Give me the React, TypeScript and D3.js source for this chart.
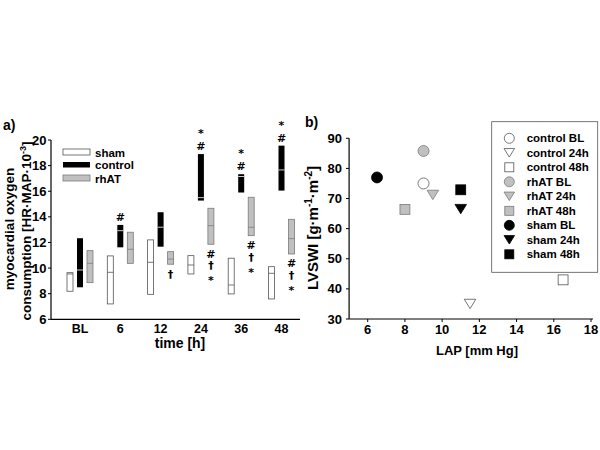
import React from "react";
import * as d3 from "d3";

const categories = ["BL", "6", "12", "24", "36", "48"];
const shamLow = [8.19, 7.2, 7.95, 9.54, 7.98, 7.59];
const shamMed = [9.54, 9.67, 10.45, 10.24, 8.68, 9.59];
const shamHigh = [9.64, 10.95, 12.2, 10.97, 10.77, 10.11];
const controlLow = [8.5, 11.62, 11.67, 15.27, 15.9, 16.05];
const controlMed = [9.85, 12.92, 13.19, 15.5, 17.15, 17.66];
const controlHigh = [12.33, 13.37, 14.36, 18.9, 17.33, 19.56];
const rhatLow = [8.86, 10.37, 10.3, 11.86, 12.53, 11.1];
const rhatMed = [10.37, 11.47, 10.7, 13.31, 13.19, 12.3];
const rhatHigh = [11.36, 12.8, 11.28, 14.67, 15.53, 13.81];
const aboveControl = [[], ["#"], [], ["#", "*"], ["#", "*"], ["#", "*"]];
const belowRhat = [[], [], ["†"], ["#", "†", "*"], ["#", "†", "*"], ["#", "†", "*"]];
const yTicksA = [6, 8, 10, 12, 14, 16, 18, 20];

const scatterLabels = ["control BL", "control 24h", "control 48h", "rhAT BL", "rhAT 24h", "rhAT 48h", "sham BL", "sham 24h", "sham 48h"];
const scatterLAP = [9, 11.5, 16.5, 9, 9.5, 8, 6.5, 11, 11];
const scatterLVSWI = [75, 35, 43, 85.8, 71.2, 66.4, 77, 66.5, 72.9];
const xTicksB = [6, 8, 10, 12, 14, 16, 18];
const yTicksB = [30, 40, 50, 60, 70, 80, 90];

const FONT = "'Liberation Sans', Arial, sans-serif";
const SYMFONT = "'DejaVu Sans', 'Liberation Sans', sans-serif";
const GREY = "#c0c0c0";
const GREY_STROKE = "#7a7a7a";

function groupStyle(label: string) {
  if (label.startsWith("control")) return { fill: "#ffffff", stroke: "#555" };
  if (label.startsWith("rhAT")) return { fill: GREY, stroke: GREY_STROKE };
  return { fill: "#000000", stroke: "#000" };
}

function Marker({ label, cx, cy, s }: { label: string; cx: number; cy: number; s: number }) {
  const st = groupStyle(label);
  const sw = 0.8;
  if (label.endsWith("BL")) {
    const p = d3.path();
    p.arc(cx, cy, s, 0, Math.PI * 2);
    return <path d={p.toString()} fill={st.fill} stroke={st.stroke} strokeWidth={sw} />;
  }
  if (label.endsWith("24h")) {
    const p = d3.path();
    const h = s * 1.7;
    p.moveTo(cx - s * 1.05, cy - h / 2);
    p.lineTo(cx + s * 1.05, cy - h / 2);
    p.lineTo(cx, cy + h / 2);
    p.closePath();
    return <path d={p.toString()} fill={st.fill} stroke={st.stroke} strokeWidth={sw} />;
  }
  return <rect x={cx - s * 0.9} y={cy - s * 0.9} width={s * 1.8} height={s * 1.8} fill={st.fill} stroke={st.stroke} strokeWidth={sw} />;
}

function symOffset(sym: string) {
  return sym === "*" ? 7 : 4;
}

export default function App() {
  // Panel a
  const yA = d3.scaleLinear().domain([6, 20]).range([319.3, 140]);
  const xA = d3.scalePoint<string>().domain(categories).range([80, 281.5]);
  const off = 10;
  const bw = 6;

  const boxes = categories.map((c, i) => {
    const cx = xA(c)!;
    return (
      <g key={c}>
        <rect x={cx - off - bw / 2} y={yA(shamHigh[i])} width={bw} height={yA(shamLow[i]) - yA(shamHigh[i])} fill="#fff" stroke="#555" strokeWidth={0.8} />
        <line x1={cx - off - bw / 2} x2={cx - off + bw / 2} y1={yA(shamMed[i])} y2={yA(shamMed[i])} stroke="#555" strokeWidth={0.8} />
        <rect x={cx - bw / 2} y={yA(controlHigh[i])} width={bw} height={yA(controlLow[i]) - yA(controlHigh[i])} fill="#000" />
        <line x1={cx - bw / 2} x2={cx + bw / 2} y1={yA(controlMed[i])} y2={yA(controlMed[i])} stroke="#fff" strokeWidth={0.8} />
        <rect x={cx + off - bw / 2} y={yA(rhatHigh[i])} width={bw} height={yA(rhatLow[i]) - yA(rhatHigh[i])} fill={GREY} stroke={GREY_STROKE} strokeWidth={0.8} />
        <line x1={cx + off - bw / 2} x2={cx + off + bw / 2} y1={yA(rhatMed[i])} y2={yA(rhatMed[i])} stroke={GREY_STROKE} strokeWidth={0.8} />
        {aboveControl[i].map((sym, k) => (
          <text key={"a" + k} x={cx} y={yA(controlHigh[i]) - 8 - k * 16 + symOffset(sym)} textAnchor="middle" fontSize={11} fontWeight="bold" fontFamily={SYMFONT} fill="#000">{sym}</text>
        ))}
        {belowRhat[i].map((sym, k) => (
          <text key={"b" + k} x={cx + off} y={yA(rhatLow[i]) + 9.5 + k * 11.7 + symOffset(sym)} textAnchor="middle" fontSize={11} fontWeight="bold" fontFamily={SYMFONT} fill="#000">{sym}</text>
        ))}
      </g>
    );
  });

  // Panel b
  const xB = d3.scaleLinear().domain([5, 18]).range([349.1, 591]);
  const yB = d3.scaleLinear().domain([30, 90]).range([319, 138.3]);
  const legendRowsY = d3.scalePoint<string>().domain(scatterLabels).range([138.3, 254.3]);

  return (
    <svg width={600} height={450} style={{ position: "absolute", left: 0, top: 0, background: "#fff" }} fontFamily={FONT}>
      <rect x={0} y={0} width={600} height={450} fill="#fff" />
      {/* ---------- Panel a ---------- */}
      <text x={3} y={130} fontSize={14} fontWeight="bold">a)</text>
      <line x1={51} x2={51} y1={yA(20)} y2={yA(6)} stroke="#000" strokeWidth={1.2} />
      <line x1={51} x2={300} y1={yA(6)} y2={yA(6)} stroke="#000" strokeWidth={1.2} />
      {yTicksA.map((t) => (
        <g key={t}>
          <line x1={48} x2={51} y1={yA(t)} y2={yA(t)} stroke="#000" />
          <text x={46.5} y={yA(t) + 4.5} textAnchor="end" fontSize={13} fontWeight="bold">{t}</text>
        </g>
      ))}
      {categories.map((c) => (
        <text key={c} x={xA(c)!} y={332.5} textAnchor="middle" fontSize={12.5} fontWeight="bold">{c}</text>
      ))}
      <text x={180} y={348} textAnchor="middle" fontSize={14} fontWeight="bold">time [h]</text>
      <text transform="translate(13.5,229) rotate(-90)" textAnchor="middle" fontSize={13.5} fontWeight="bold">myocardial oxygen</text>
      <text transform="translate(30.5,231) rotate(-90)" textAnchor="middle" fontSize={13.5} fontWeight="bold">
        consumption [HR·MAP·10<tspan dy={-5} fontSize={9}>-3</tspan><tspan dy={5}>]</tspan>
      </text>
      {/* legend a */}
      <rect x={63} y={149} width={27} height={6} fill="#fff" stroke="#555" strokeWidth={0.8} />
      <text x={95} y={156.5} fontSize={11.5} fontWeight="bold">sham</text>
      <rect x={63} y={162} width={27} height={5.5} fill="#000" />
      <text x={95} y={169} fontSize={11.5} fontWeight="bold">control</text>
      <rect x={63} y={175} width={27} height={6} fill={GREY} stroke={GREY_STROKE} strokeWidth={0.8} />
      <text x={95} y={182.5} fontSize={11.5} fontWeight="bold">rhAT</text>
      {boxes}

      {/* ---------- Panel b ---------- */}
      <text x={305} y={127} fontSize={14} fontWeight="bold">b)</text>
      <line x1={349.1} x2={349.1} y1={yB(90)} y2={yB(30)} stroke="#000" strokeWidth={1.2} />
      <line x1={349.1} x2={593} y1={yB(30)} y2={yB(30)} stroke="#000" strokeWidth={1.2} />
      {yTicksB.map((t) => (
        <g key={t}>
          <line x1={346} x2={349.1} y1={yB(t)} y2={yB(t)} stroke="#000" />
          <text x={342} y={yB(t) + 4.5} textAnchor="end" fontSize={13} fontWeight="bold">{t}</text>
        </g>
      ))}
      {xTicksB.map((t) => (
        <g key={t}>
          <line x1={xB(t)} x2={xB(t)} y1={yB(30)} y2={yB(30) + 3} stroke="#000" />
          <text x={xB(t)} y={334} textAnchor="middle" fontSize={13} fontWeight="bold">{t}</text>
        </g>
      ))}
      <text x={477} y={355} textAnchor="middle" fontSize={13} fontWeight="bold">LAP [mm Hg]</text>
      <text transform="translate(318,228) rotate(-90)" textAnchor="middle" fontSize={15} fontWeight="bold">
        LVSWI [g·m<tspan dy={-6} fontSize={10}>-1</tspan><tspan dy={6}>·m</tspan><tspan dy={-6} fontSize={10}>-2</tspan><tspan dy={6}>]</tspan>
      </text>
      {scatterLabels.map((l, i) => (
        <Marker key={l} label={l} cx={xB(scatterLAP[i])} cy={yB(scatterLVSWI[i])} s={5.5} />
      ))}
      {/* legend b */}
      <rect x={491.7} y={121.7} width={106} height={150.6} fill="#fff" stroke="#555" strokeWidth={0.8} />
      {scatterLabels.map((l) => (
        <g key={l}>
          <Marker label={l} cx={509.3} cy={legendRowsY(l)!} s={5} />
          <text x={526.7} y={legendRowsY(l)! + 4} fontSize={11.5} fontWeight="bold">{l}</text>
        </g>
      ))}
    </svg>
  );
}
